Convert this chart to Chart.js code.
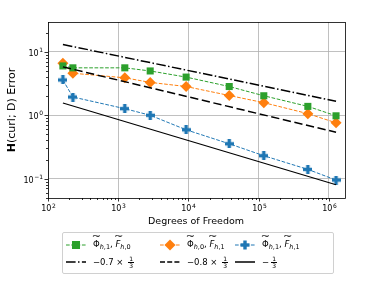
<!DOCTYPE html>
<html>
<head>
<meta charset="utf-8">
<script src="https://cdn.jsdelivr.net/npm/chart.js@4/dist/chart.umd.min.js"></script>
<style>
  body { margin:0; background:#fff; font-family:"DejaVu Sans", sans-serif; }
  #wrap { position:relative; width:384px; height:288px; overflow:hidden; }
  #c { position:absolute; left:0; top:0; }
  .ylab { position:absolute; left:-38px; top:104px; width:100px; height:12px; line-height:12px; text-align:center; transform:rotate(-90deg); font-size:11px; white-space:nowrap; color:#000; }
  .xlab { position:absolute; left:96px; top:215px; width:200px; height:12px; line-height:12px; text-align:center; font-size:9.5px; white-space:nowrap; color:#000; }
  #legend { position:absolute; left:62px; top:232px; width:270px; height:40px; border:1px solid #d0d0d0; border-radius:2px; font-size:8.5px; }
  .item { position:absolute; display:flex; align-items:center; height:14px; white-space:nowrap; }
  .item svg { margin-right:7px; }
  .tl { position:relative; display:inline-block; }
  .tl::before { content:"~"; position:absolute; left:0; right:0; top:-7px; text-align:center; font-size:8px; transform:scaleX(1.4); }
  sub { font-size:6.5px; vertical-align:-2px; }
  .frac { display:inline-flex; flex-direction:column; align-items:center; font-size:6px; line-height:6px; vertical-align:middle; margin-left:2px; }
  .frac span:first-child { border-bottom:0.7px solid #000; padding:0 1px; }
</style>
</head>
<body>
<div id="wrap">
  <canvas id="c" width="384" height="288"></canvas>
  <div class="ylab"><b>H</b>(curl; D) Error</div>
  <div class="xlab">Degrees of Freedom</div>
  <div id="legend"></div>
</div>
<script>
// data
const dofs = [163, 226, 1240, 2850, 9250, 38000, 118000, 500000, 1260000];
const errG = [6.0, 5.6, 5.6, 5.0, 4.0, 2.84, 2.03, 1.38, 0.98];
const errO = [6.6, 4.6, 3.9, 3.3, 2.84, 2.05, 1.58, 1.06, 0.76];
const errB = [3.6, 1.94, 1.27, 1.0, 0.59, 0.355, 0.23, 0.14, 0.095];
// reference slope lines (endpoints)
const refX = [163, 1260000];
const ref07 = [13.1, 1.66];
const ref08 = [5.8, 0.54];
const ref1 = [1.56, 0.08];

const xMin = 100, xMax = 1.69e6;
const yMin = 0.0495, yMax = 29.6;

const GREEN = '#2ca02c', ORANGE = '#ff7f0e', BLUE = '#1f77b4';

function pts(xs, ys){ return xs.map((x,i)=>({x, y: ys[i]})); }

// filled plus marker like matplotlib 'P'
function plusMarker(size, color){
  const cv = document.createElement('canvas');
  cv.width = size; cv.height = size;
  const g = cv.getContext('2d');
  g.fillStyle = color;
  const t = size*0.38, o = (size - t)/2;
  g.fillRect(o, 0, t, size);
  g.fillRect(0, o, size, t);
  return cv;
}

function logTicks(min, max){
  const out = [];
  for (let e = Math.floor(Math.log10(min)); e <= Math.ceil(Math.log10(max)); e++){
    for (let m = 1; m <= 9; m++){
      const v = m * Math.pow(10, e);
      if (v >= min*0.999 && v <= max*1.001) out.push({ value: v, major: m === 1 });
    }
  }
  return out;
}

function exponentOf(v){
  const e = Math.round(Math.log10(v));
  return Math.abs(Math.log10(v) - e) > 1e-6 ? null : e;
}

// "10" with a raised exponent, matplotlib style
function drawPow(ctx, e, x, y, align){
  ctx.font = '8px "DejaVu Sans"';
  const base = '10', ex = String(e).replace('-', '−');
  const wb = ctx.measureText(base).width;
  ctx.font = '6px "DejaVu Sans"';
  const we = ctx.measureText(ex).width;
  const w = wb + we + 0.5;
  let x0 = align === 'right' ? x - w : x - w/2;
  ctx.textAlign = 'left';
  ctx.textBaseline = 'alphabetic';
  ctx.font = '8px "DejaVu Sans"';
  ctx.fillText(base, x0, y);
  ctx.font = '6px "DejaVu Sans"';
  ctx.fillText(ex, x0 + wb + 0.5, y - 3.5);
}

// frame, outward tick marks and power-of-ten labels
const frameTicks = {
  id: 'frameTicks',
  afterDraw(chart){
    const { ctx, chartArea: a, scales } = chart;
    ctx.save();
    ctx.strokeStyle = '#000';
    ctx.fillStyle = '#000';
    ctx.lineWidth = 0.8;
    scales.x.ticks.forEach(t=>{
      const px = Math.round(scales.x.getPixelForValue(t.value)) + 0.5;
      const len = t.major ? 3.5 : 2;
      ctx.beginPath(); ctx.moveTo(px, a.bottom); ctx.lineTo(px, a.bottom + len); ctx.stroke();
      const e = exponentOf(t.value);
      if (e !== null) drawPow(ctx, e, px, a.bottom + 13, 'center');
    });
    scales.y.ticks.forEach(t=>{
      const py = Math.round(scales.y.getPixelForValue(t.value)) + 0.5;
      const len = t.major ? 3.5 : 2;
      ctx.beginPath(); ctx.moveTo(a.left, py); ctx.lineTo(a.left - len, py); ctx.stroke();
      const e = exponentOf(t.value);
      if (e !== null) drawPow(ctx, e, a.left - 5, py + 3, 'right');
    });
    ctx.strokeRect(Math.round(a.left)+0.5, Math.round(a.top)+0.5, Math.round(a.right - a.left), Math.round(a.bottom - a.top));
    ctx.restore();
  }
};

const lineDefaults = { borderWidth: 1, pointBorderWidth: 0, fill: false, tension: 0 };

new Chart(document.getElementById('c'), {
  type: 'line',
  data: {
    datasets: [
      { ...lineDefaults, data: pts(refX, ref07), borderColor:'#000', borderWidth:1.5, borderDash:[9.6,2.4,1.5,2.4], pointRadius:0 },
      { ...lineDefaults, data: pts(refX, ref08), borderColor:'#000', borderWidth:1.5, borderDash:[8.3,3.6], pointRadius:0 },
      { ...lineDefaults, data: pts(refX, ref1), borderColor:'#000', borderWidth:1.2, pointRadius:0 },
      { ...lineDefaults, data: pts(dofs, errG), borderColor:GREEN, backgroundColor:GREEN, borderDash:[3.7,1.6], pointStyle:'rect', pointRadius:5 },
      { ...lineDefaults, data: pts(dofs, errO), borderColor:ORANGE, backgroundColor:ORANGE, borderDash:[3.7,1.6], pointStyle:'rectRot', pointRadius:5.5 },
      { ...lineDefaults, data: pts(dofs, errB), borderColor:BLUE, backgroundColor:BLUE, borderDash:[3.7,1.6], pointStyle: plusMarker(9, BLUE) },
    ]
  },
  options: {
    responsive: false,
    animation: false,
    layout: { padding: { left: 0, right: 39, top: 22, bottom: 0 } },
    plugins: { legend: { display:false }, tooltip: { enabled:false } },
    scales: {
      x: {
        type: 'logarithmic', min: xMin, max: xMax,
        afterBuildTicks: s => { s.ticks = logTicks(xMin, xMax); },
        afterFit: s => { s.height = 90; },
        grid: { drawTicks:false, color: c => (c.tick && c.tick.major) ? '#b0b0b0' : 'rgba(0,0,0,0)', lineWidth: 0.8 },
        border: { display:false },
        ticks: { display:false, autoSkip:false }
      },
      y: {
        type: 'logarithmic', min: yMin, max: yMax,
        afterBuildTicks: s => { s.ticks = logTicks(yMin, yMax); },
        afterFit: s => { s.width = 48; },
        grid: { drawTicks:false, color: c => (c.tick && c.tick.major) ? '#b0b0b0' : 'rgba(0,0,0,0)', lineWidth: 0.8 },
        border: { display:false },
        ticks: { display:false, autoSkip:false }
      }
    }
  },
  plugins: [frameTicks]
});

// legend (html, matplotlib style)
const phiF = (a, b) => `<span class="tl">Φ</span><sub><i>h</i>,${a}</sub>, <span class="tl"><i>F</i></span><sub><i>h</i>,${b}</sub>`;
const frac = '<span class="frac"><span>1</span><span>3</span></span>';
function handle(color, dash, marker){
  let m = '';
  if (marker === 'rect') m = `<rect x="6" y="3" width="8" height="8" fill="${color}"/>`;
  if (marker === 'diamond') m = `<polygon points="10,1.5 15.5,7 10,12.5 4.5,7" fill="${color}"/>`;
  if (marker === 'plus') m = `<rect x="8.3" y="2.5" width="3.4" height="9" fill="${color}"/><rect x="5.5" y="5.3" width="9" height="3.4" fill="${color}"/>`;
  return `<svg width="20" height="14"><line x1="0" y1="7" x2="20" y2="7" stroke="${color}" stroke-width="${marker ? 1 : 1.5}" ${dash ? `stroke-dasharray="${dash}"` : ''}/>${m}</svg>`;
}
const legendItems = [
  { left:3,   top:5,  h: handle(GREEN, '3.7,1.6', 'rect'), t: phiF(1, 0) },
  { left:97,  top:5,  h: handle(ORANGE, '3.7,1.6', 'diamond'), t: phiF(0, 1) },
  { left:172, top:5,  h: handle(BLUE, '3.7,1.6', 'plus'), t: phiF(1, 1) },
  { left:3,   top:22, h: handle('#000', '9.6,2.4,1.5,2.4'), t: '−0.7 × ' + frac },
  { left:97,  top:22, h: handle('#000', '5,2.2'), t: '−0.8 × ' + frac },
  { left:172, top:22, h: handle('#000', ''), t: '−' + frac },
];
document.getElementById('legend').innerHTML = legendItems.map(it =>
  `<div class="item" style="left:${it.left}px;top:${it.top}px">${it.h}<span>${it.t}</span></div>`).join('');
</script>
</body>
</html>
